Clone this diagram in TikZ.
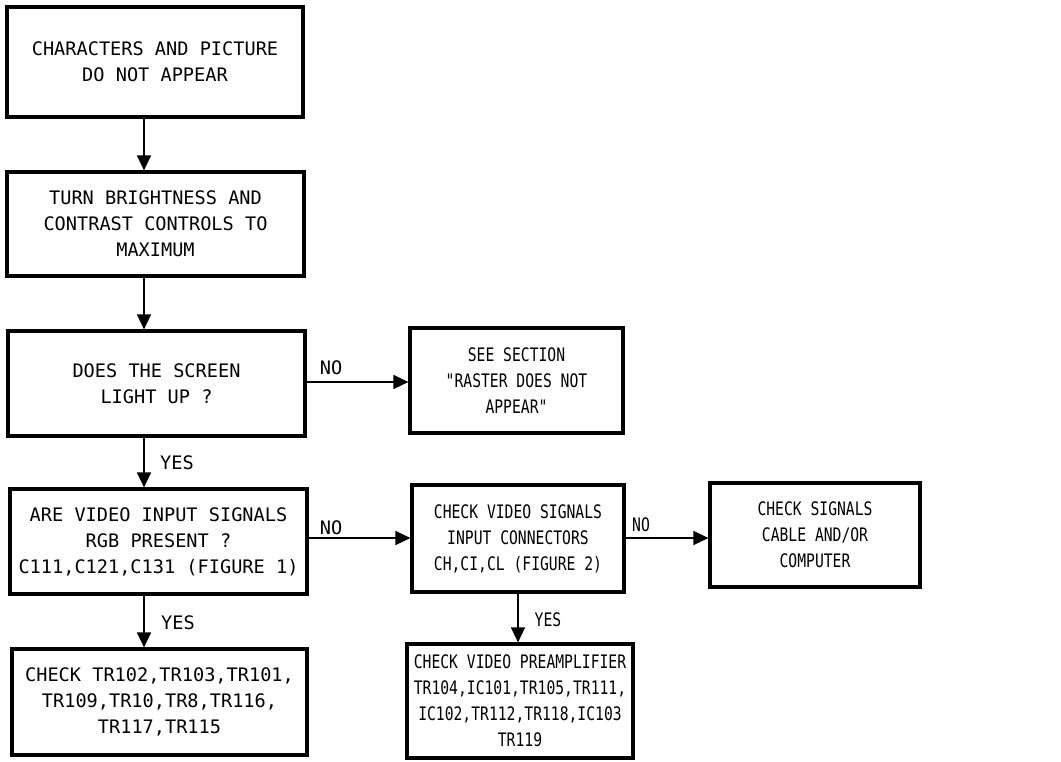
\documentclass[tikz,border=0pt]{standalone}
\usepackage{fontspec}
\newfontfamily\wmono{DejaVu Sans Mono}
\newfontfamily\nmono[FakeStretch=0.79]{DejaVu Sans Mono}
\usetikzlibrary{arrows.meta}
\tikzset{
  box/.style={draw, line width=3.2pt, align=center, inner sep=0pt,
    font=\wmono\fontsize{18.6}{26}\selectfont},
  nbox/.style={box, font=\nmono\fontsize{18.6}{26}\selectfont},
  arr/.style={line width=1.5pt, -{Triangle[length=15pt,width=14pt]}},
  lbl/.style={font=\wmono\fontsize{18.6}{26}\selectfont, inner sep=0pt},
  nlbl/.style={font=\nmono\fontsize{18.6}{26}\selectfont, inner sep=0pt},
}
\begin{document}
\begin{tikzpicture}[x=1pt,y=-1pt]
\useasboundingbox[fill=white] (0,0) rectangle (1061,761);
% left column
\node[box, minimum width=296pt, minimum height=110pt] (b1) at (155,62)
  {CHARACTERS AND PICTURE\\DO NOT APPEAR};
\node[box, minimum width=297pt, minimum height=104pt] (b2) at (155.5,224)
  {TURN BRIGHTNESS AND\\CONTRAST CONTROLS TO\\MAXIMUM};
\node[box, minimum width=297pt, minimum height=105pt] (b3) at (156.5,383.5)
  {DOES THE SCREEN\\LIGHT UP ?};
\node[box, minimum width=297pt, minimum height=105pt] (b4) at (158.5,541.5)
  {ARE VIDEO INPUT SIGNALS\\RGB PRESENT ?\\C111,C121,C131 (FIGURE 1)};
\node[box, minimum width=295pt, minimum height=106pt] (b5) at (159.5,702)
  {CHECK TR102,TR103,TR101,\\TR109,TR10,TR8,TR116,\\TR117,TR115};
% right side
\node[nbox, minimum width=213pt, minimum height=105pt] (r1) at (516.5,380.5)
  {SEE SECTION\\"RASTER DOES NOT\\APPEAR"};
\node[nbox, minimum width=212pt, minimum height=107pt] (r2) at (518,538.5)
  {CHECK VIDEO SIGNALS\\INPUT CONNECTORS\\CH,CI,CL (FIGURE 2)};
\node[nbox, minimum width=210pt, minimum height=104pt] (r3) at (815,535)
  {CHECK SIGNALS\\CABLE AND/OR\\COMPUTER};
\node[nbox, minimum width=226pt, minimum height=114pt] (r4) at (520,701)
  {CHECK VIDEO PREAMPLIFIER\\TR104,IC101,TR105,TR111,\\IC102,TR112,TR118,IC103\\TR119};
% connectors
\coordinate (xa) at (144,0);
\draw[arr] (b1.south -| xa) -- (b2.north -| xa);
\draw[arr] (b2.south -| xa) -- (b3.north -| xa);
\draw[arr] (b3.south -| xa) -- (b4.north -| xa);
\draw[arr] (b4.south -| xa) -- (b5.north -| xa);
\coordinate (ya) at (0,382);
\coordinate (yb) at (0,538);
\draw[arr] (b3.east |- ya) -- (r1.west |- ya);
\draw[arr] (b4.east |- yb) -- (r2.west |- yb);
\draw[arr] (r2.east |- yb) -- (r3.west |- yb);
\draw[arr] (r2.south) -- (r4.north -| r2.south);
% labels
\node[lbl] (n1) at (331,368) {NO};
\node[lbl, anchor=west] (y1) at (160,463) {YES};
\node[lbl] (n2) at (331,528) {NO};
\node[lbl, anchor=west] (y2) at (161,623) {YES};
\node[nlbl] (n3) at (641,525) {NO};
\node[nlbl] (y3) at (548,620) {YES};
\end{tikzpicture}
\end{document}
